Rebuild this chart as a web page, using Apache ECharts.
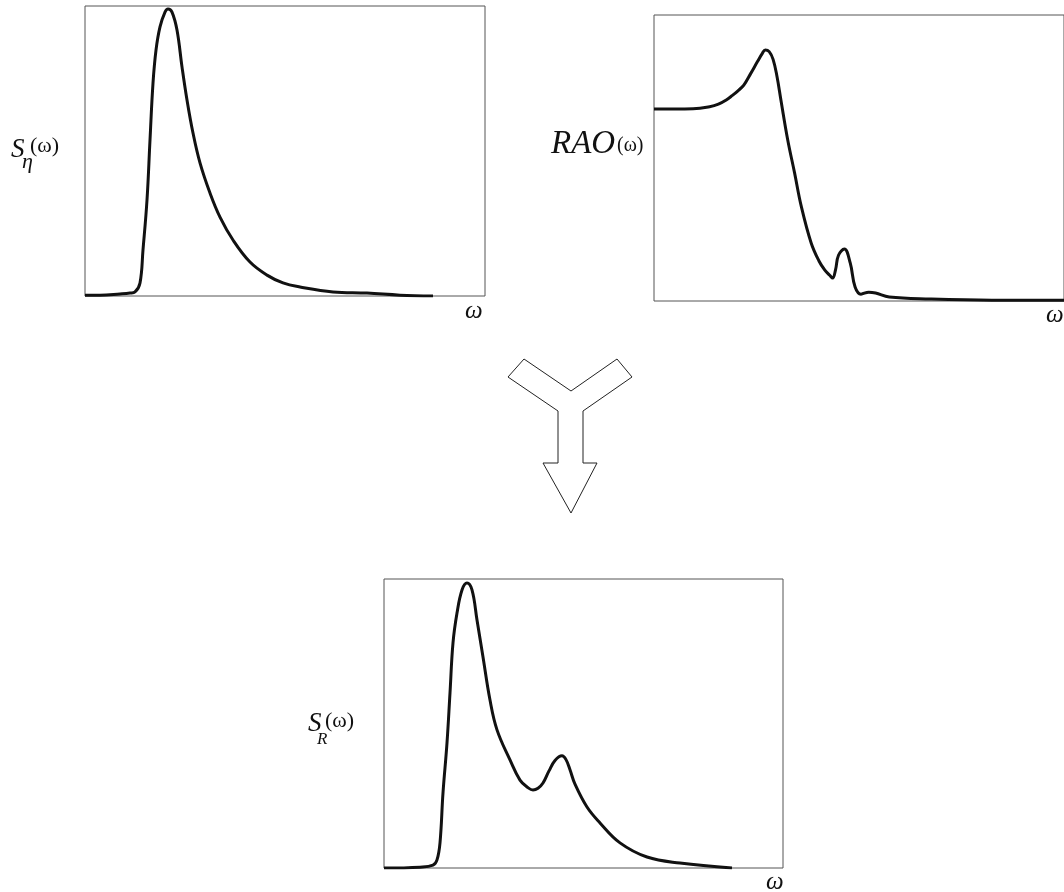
<!DOCTYPE html>
<html>
<head>
<meta charset="utf-8">
<script src="https://cdn.jsdelivr.net/npm/echarts@6/dist/echarts.min.js"></script>
<style>
html,body{margin:0;padding:0;background:#fff;}
#c{width:1064px;height:892px;}
</style>
</head>
<body>
<div id="c"></div>
<script>
// Wave spectrum S_eta(omega)
const omegaWave = [0,0.15,0.35,0.45,0.50,0.55,0.58,0.62,0.65,0.68,0.71,0.75,0.80,0.83,0.87,0.92,0.97,1.02,1.08,1.15,1.25,1.35,1.48,1.65,1.82,1.98,2.15,2.48,2.82,3.15,3.48];
const sWave     = [0.003,0.003,0.007,0.010,0.014,0.045,0.159,0.331,0.538,0.734,0.848,0.928,0.979,0.990,0.979,0.917,0.790,0.676,0.562,0.459,0.355,0.272,0.193,0.117,0.072,0.045,0.031,0.014,0.010,0.003,0.0];

// Response amplitude operator RAO(omega)
const omegaRAO = [0,0.40,0.57,0.66,0.74,0.80,0.86,0.92,0.99,1.06,1.11,1.14,1.18,1.22,1.26,1.30,1.37,1.44,1.51,1.61,1.69,1.75,1.80,1.83,1.86,1.89,1.95,2.01,2.06,2.12,2.20,2.27,2.41,2.83,3.46,4.20];
const rao      = [0.671,0.672,0.679,0.688,0.703,0.718,0.735,0.755,0.795,0.837,0.866,0.878,0.872,0.845,0.785,0.703,0.563,0.448,0.329,0.203,0.140,0.108,0.090,0.080,0.110,0.160,0.182,0.133,0.049,0.024,0.031,0.028,0.014,0.007,0.003,0.003];

// Response spectrum S_R(omega)
const omegaResp = [0,0.36,0.49,0.53,0.56,0.59,0.63,0.66,0.69,0.73,0.78,0.83,0.88,0.93,0.99,1.06,1.13,1.26,1.36,1.44,1.49,1.54,1.59,1.65,1.71,1.78,1.82,1.86,1.91,2.03,2.16,2.36,2.63,2.96,3.48];
const sResp     = [0.0,0.003,0.010,0.028,0.087,0.260,0.433,0.606,0.779,0.882,0.962,0.986,0.962,0.858,0.730,0.581,0.478,0.374,0.304,0.278,0.270,0.276,0.294,0.336,0.372,0.388,0.375,0.340,0.290,0.211,0.156,0.087,0.038,0.017,0.0];

const xMax = [4.0, 4.2, 3.99];
const xLabel = 'ω';

function pairs(xs, ys){ return xs.map((x,i)=>[x, ys[i]]); }

const chart = echarts.init(document.getElementById('c'), null, {renderer:'canvas'});
const serif = 'Liberation Serif';

const grids = [
  {left:85, top:6, width:400, height:290},
  {left:654, top:15, width:420, height:286},
  {left:384, top:579, width:399, height:289}
];

const xAxes = grids.map((g,i)=>({
  gridIndex:i, type:'value', min:0, max:xMax[i],
  axisLine:{show:false}, axisTick:{show:false}, axisLabel:{show:false}, splitLine:{show:false}
}));
const yAxes = grids.map((g,i)=>({
  gridIndex:i, type:'value', min:0, max:1,
  axisLine:{show:false}, axisTick:{show:false}, axisLabel:{show:false}, splitLine:{show:false}
}));

const lineStyle = {color:'#111', width:3};
const series = [
  {type:'line', xAxisIndex:0, yAxisIndex:0, data:pairs(omegaWave, sWave), showSymbol:false, smooth:0.4, lineStyle, silent:true},
  {type:'line', xAxisIndex:1, yAxisIndex:1, data:pairs(omegaRAO, rao), showSymbol:false, smooth:0.4, lineStyle, silent:true},
  {type:'line', xAxisIndex:2, yAxisIndex:2, data:pairs(omegaResp, sResp), showSymbol:false, smooth:0.4, lineStyle, silent:true}
];

function txt(text, x, y, size, italic){
  return {type:'text', z:10, style:{text:text, x:x, y:y, fill:'#111',
    fontSize:size, fontFamily:serif, fontStyle:(italic?'italic':'normal'),
    verticalAlign:'top', align:'left'}};
}

const graphic = [
  // S_eta(omega)
  txt('S', 11, 136, 27, true),
  txt('η', 22, 151, 22, true),
  txt('(ω)', 30, 135, 22, false),
  // RAO(omega)
  txt('RAO', 551, 128, 33, true),
  txt('(ω)', 617, 136, 20, false),
  // S_R(omega)
  txt('S', 308, 710, 27, true),
  txt('R', 317, 731, 17, true),
  txt('(ω)', 325, 710, 22, false),
  // omega axis labels
  txt(xLabel, 465, 299, 25, true),
  txt(xLabel, 1046, 303, 25, true),
  txt(xLabel, 766, 870, 25, true),
  // Y-shaped combining arrow
  {type:'polygon', z:5, shape:{points:[[508,377],[524,359],[571,391],[617,359],[632,377],[583,411],[583,463],[597,463],[571,513],[543,463],[558,463],[558,411]]},
   style:{fill:'#fff', stroke:'#222', lineWidth:1}}
];

chart.setOption({
  animation:false,
  backgroundColor:'#fff',
  grid: grids.map(g=>Object.assign({show:true, borderColor:'#555', borderWidth:1, backgroundColor:'transparent'}, g)),
  xAxis: xAxes,
  yAxis: yAxes,
  series: series,
  graphic: graphic
});
</script>
</body>
</html>
